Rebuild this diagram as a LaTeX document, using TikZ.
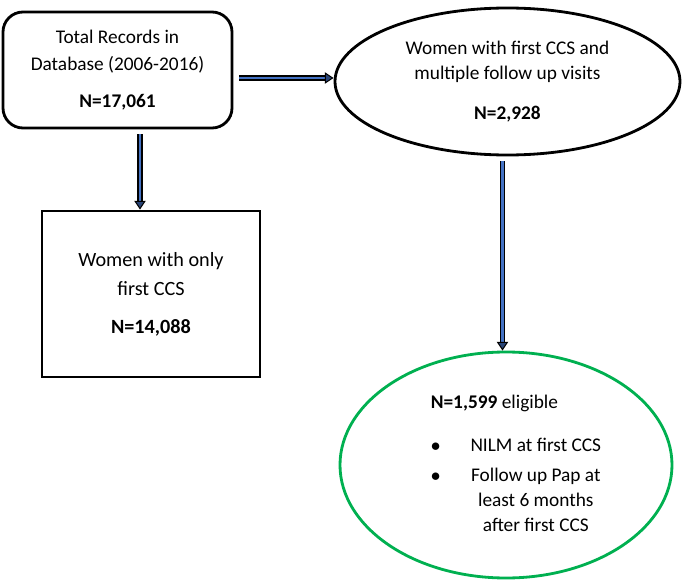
\documentclass[tikz,border=0pt]{standalone}
\usepackage{fontspec}
\setmainfont{Carlito}
\usepackage{tikz}
\usetikzlibrary{shapes,arrows.meta,positioning}
\definecolor{flowblue}{RGB}{68,114,196}
\definecolor{ringgreen}{RGB}{0,176,80}
\tikzstyle{rbox}=[rectangle, draw=black, line width=1.6pt, rounded corners=0.4cm, text centered, align=center, font=\fontsize{11}{15.3}\selectfont]
\tikzstyle{sbox}=[rectangle, draw=black, line width=1.6pt, text centered, align=center, font=\fontsize{11.5}{16.5}\selectfont]
\tikzstyle{oval}=[ellipse, draw=black, line width=1.6pt, text centered, align=center, font=\fontsize{11}{14.2}\selectfont]
\tikzstyle{goval}=[ellipse, draw=ringgreen, line width=1.6pt, text centered, font=\fontsize{11}{14.2}\selectfont]
\tikzstyle{flow}=[draw=black, line width=0.6pt, double=flowblue, double distance=1.7pt, -{Triangle[length=5pt,width=6.5pt,fill=flowblue!60!black]}]

\begin{document}
\begin{tikzpicture}
\useasboundingbox (0,0) rectangle (13.7,11.62);

%Left column
\node[rbox, minimum width=4.58cm, minimum height=2.32cm](rec) at (2.35,10.22){Total Records in\\Database (2006-2016)\\[5.5pt]\textbf{N=17,061}};
\node[sbox, minimum width=4.36cm, minimum height=3.32cm](only) at (3.02,5.74){Women with only\\first CCS\\[5pt]\textbf{N=14,088}};
%Right column
\node[oval, minimum width=6.9cm, minimum height=2.94cm](multi) at (10.15,9.99){Women with first CCS and\\multiple follow up visits\\[8.6pt]\textbf{N=2,928}};
\node[goval, minimum width=6.64cm, minimum height=4.52cm](elig) at (10.12,2.32){\hspace*{0.4cm}\begin{tabular}{@{}l@{\hspace{0.6cm}}c@{}}
\multicolumn{2}{@{}l}{\textbf{N=1,599} eligible}\\[10pt]
$\bullet$ & NILM at first CCS\\[3pt]
$\bullet$ & Follow up Pap at\\
 & least 6 months\\
 & after first CCS
\end{tabular}};

%arrows
\draw[flow] ([xshift=0.12cm,yshift=-0.16cm]rec.east) -- ([yshift=-0.16cm]rec.east -| multi.west);
\draw[flow] ([xshift=0.45cm,yshift=-0.1cm]rec.south) -- ([xshift=0.45cm]rec.south |- only.north);
\draw[flow] ([xshift=-0.1cm,yshift=-0.1cm]multi.south) -- ([xshift=-0.1cm]multi.south |- elig.north);

\end{tikzpicture}
\end{document}
